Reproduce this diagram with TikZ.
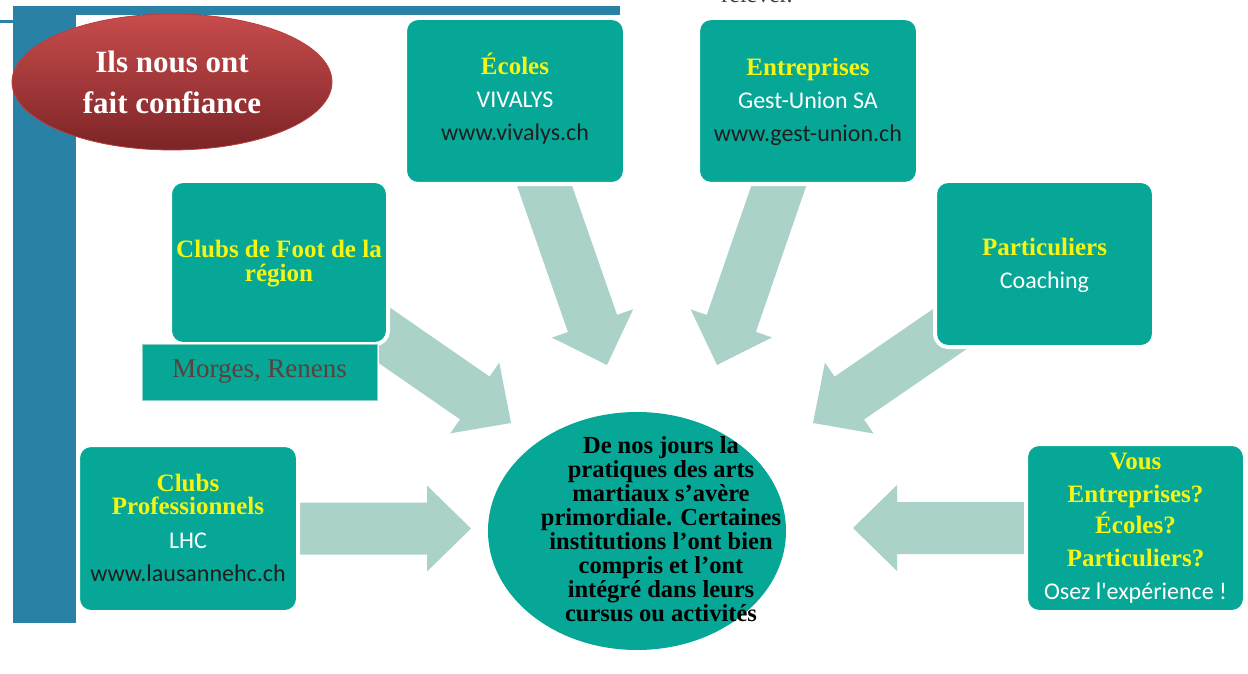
\documentclass[tikz,border=0pt]{standalone}
\usepackage{fontspec}
\setmainfont{Liberation Serif}
\newfontfamily\calib{Carlito}
\usetikzlibrary{calc,shapes.geometric,backgrounds}
\definecolor{frameblue}{RGB}{42,129,166}
\definecolor{tealbox}{RGB}{6,167,150}
\definecolor{arrowc}{RGB}{170,210,201}
\definecolor{ylw}{RGB}{245,245,20}
\definecolor{morgesc}{RGB}{88,66,58}
\definecolor{mborder}{RGB}{140,210,200}
\definecolor{redtop}{RGB}{200,76,76}
\definecolor{redbot}{RGB}{124,36,38}
\definecolor{redborder}{RGB}{190,60,60}
\definecolor{urlc}{RGB}{30,30,30}
\definecolor{topgray}{RGB}{70,60,55}
\newcommand\hd[1]{\textcolor{ylw}{\rmfamily\bfseries\fontsize{25}{33}\selectfont #1}}
\newcommand\url[1]{\textcolor{urlc}{#1}}
\newcommand\blockarrow[2]{%
  \coordinate (ba-h) at ($(#2)!44pt!(#1)$);
  \fill[arrowc] ($(#1)!26pt!90:(#2)$) -- ($(ba-h)!26pt!90:(#2)$) -- ($(ba-h)!43pt!90:(#2)$) -- (#2)
    -- ($(ba-h)!43pt!-90:(#2)$) -- ($(ba-h)!26pt!-90:(#2)$) -- ($(#1)!26pt!-90:(#2)$) -- cycle;}
\begin{document}
\begin{tikzpicture}[x=1pt,y=-1pt,
  box/.style={draw=white, line width=4pt, fill=tealbox, rounded corners=13pt,
    minimum width=220pt, minimum height=166pt, inner sep=0pt},
  boxtext/.style={align=center, text=white, inner sep=0pt, font=\calib\fontsize{24}{33}\selectfont},
  hubtext/.style={align=center, text=black, inner sep=0pt, font=\bfseries\fontsize{24.5}{24}\selectfont},
  morgesbox/.style={rectangle, fill=tealbox, draw=mborder, line width=1pt,
    preaction={draw=white, line width=4pt}, text=morgesc, inner sep=0pt,
    font=\fontsize{27}{30}\selectfont, minimum width=235pt, minimum height=56pt},
]
\useasboundingbox (0,0) rectangle (1248,674);

% boxes
\node[box] (ecoles) at (515,101) {};
\node[box] (entr) at (808,101) {};
\node[box, minimum width=218pt, minimum height=163pt] (foot) at (279,262.5) {};
\node[box, minimum width=219pt] (part) at (1044.5,264) {};
\node[box, minimum height=167pt] (pro) at (188,528.5) {};
\node[box, minimum width=219pt, minimum height=168pt] (vous) at (1135.5,528) {};
\node[morgesbox] (morges) at (259.5,372) {Morges, Renens};

% hub
\node[ellipse, fill=tealbox, minimum width=298pt, minimum height=238pt, inner sep=0pt] (hub) at (637,531) {};
\node[hubtext] (hubT) at (661,529) {De nos jours la\\pratiques des arts\\martiaux s’avère\\primordiale. Certaines\\institutions l’ont bien\\compris et l’ont\\intégré dans leurs\\cursus ou activités};

% arrow tips
\coordinate (t1) at (607,365);
\coordinate (t2) at (717,365);
\coordinate (t3) at (511,423);
\coordinate (t4) at (813,423);
\coordinate (t5) at (471,528.5);
\coordinate (t6) at (853,528);

\begin{pgfonlayer}{background}
  \fill[frameblue] (13,6) rectangle (76,623);
  \fill[frameblue] (13,6) rectangle (620,15);
  \fill[frameblue] (0,20) rectangle (13,23);
  \blockarrow{ecoles.center}{t1}
  \blockarrow{entr.center}{t2}
  \blockarrow{foot.center}{t3}
  \blockarrow{part.center}{t4}
  \blockarrow{pro.center}{t5}
  \blockarrow{vous.center}{t6}
\end{pgfonlayer}

% box texts
\node[boxtext] (ecolesT) at (515,99) {\hd{Écoles}\\VIVALYS\\\url{www.vivalys.ch}};
\node[boxtext] (entrT) at (808,101.5) {\hd{Entreprises}\\Gest-Union SA\\\url{www.gest-union.ch}};
\node[boxtext] (footT) at (279,263.5) {\hd{Clubs de Foot de la}\\[-9pt]\hd{région}};
\node[boxtext] (partT) at (1044.5,265) {\hd{Particuliers}\\Coaching};
\node[boxtext] (proT) at (188,528) {\hd{Clubs}\\[-10pt]\hd{Professionnels}\\[1pt]LHC\\\url{www.lausannehc.ch}};
\node[boxtext] (vousT) at (1135.5,528.5) {\hd{Vous}\\\hd{Entreprises?}\\[-2pt]\hd{Écoles?}\\\hd{Particuliers?}\\Osez l'expérience !};

% title ellipse
\node[ellipse, top color=redtop, bottom color=redbot, draw=redborder, line width=0.8pt,
  minimum width=320pt, minimum height=136pt, inner sep=0pt, text=white, align=center,
  font=\bfseries\fontsize{31}{41}\selectfont] (trust) at (172,82) {Ils nous ont\\fait confiance};

% cut-off text at top
\node[anchor=base, text=topgray, inner sep=0pt, font=\fontsize{24}{28}\selectfont] (relever) at (757,3) {relever.};
\end{tikzpicture}
\end{document}
